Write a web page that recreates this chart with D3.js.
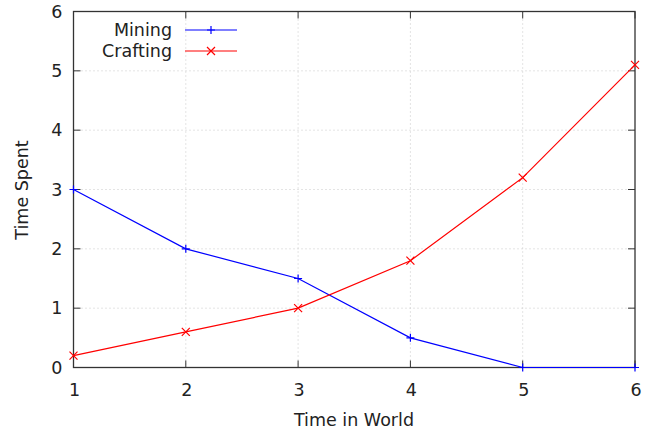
<!DOCTYPE html>
<html>
<head>
<meta charset="utf-8">
<script src="https://cdn.jsdelivr.net/npm/d3@7"></script>
<style>
  body { margin: 0; background: #fff; }
  text { font-family: "DejaVu Sans", sans-serif; font-size: 17.5px; fill: #222; }
</style>
</head>
<body>
<div id="chart"></div>
<script>
(() => {
  let xValues = [1, 2, 3, 4, 5, 6]
  let mining = [3, 2, 1.5, 0.5, 0, 0]
  let crafting = [0.2, 0.6, 1.0, 1.8, 3.2, 5.1]
  let xTicks = [1, 2, 3, 4, 5, 6]
  let yTicks = [0, 1, 2, 3, 4, 5, 6]

  let width = 650
  let height = 429
  let left = 73.5, right = 635, top = 11.5, bottom = 367.5

  let svg = d3.select('#chart')
              .append('svg')
                .attr('width', width)
                .attr('height', height)

  let xScale = d3.scaleLinear().domain([1, 6]).range([left, right])
  let yScale = d3.scaleLinear().domain([0, 6]).range([bottom, top])

  // grid
  let grid = svg.append('g').attr('stroke', '#c8c8c8').attr('stroke-dasharray', '1,3').attr('stroke-width', 1)
  grid.selectAll('.gx').data(xTicks.slice(1, -1)).enter().append('line')
    .attr('x1', d => xScale(d)).attr('x2', d => xScale(d))
    .attr('y1', top).attr('y2', bottom)
  grid.selectAll('.gy').data(yTicks.slice(1, -1)).enter().append('line')
    .attr('y1', d => yScale(d)).attr('y2', d => yScale(d))
    .attr('x1', left).attr('x2', right)

  // inward ticks on all four sides
  let tickLen = 7
  let ticks = svg.append('g').attr('stroke', '#333').attr('stroke-width', 1)
  xTicks.forEach(d => {
    ticks.append('line').attr('x1', xScale(d)).attr('x2', xScale(d)).attr('y1', bottom).attr('y2', bottom - tickLen)
    ticks.append('line').attr('x1', xScale(d)).attr('x2', xScale(d)).attr('y1', top).attr('y2', top + tickLen)
  })
  yTicks.forEach(d => {
    ticks.append('line').attr('y1', yScale(d)).attr('y2', yScale(d)).attr('x1', left).attr('x2', left + tickLen)
    ticks.append('line').attr('y1', yScale(d)).attr('y2', yScale(d)).attr('x1', right).attr('x2', right - tickLen)
  })

  svg.append('rect')
    .attr('x', left).attr('y', top)
    .attr('width', right - left).attr('height', bottom - top)
    .attr('fill', 'none').attr('stroke', '#333').attr('stroke-width', 1.3)

  // tick labels
  svg.selectAll('.xl').data(xTicks).enter().append('text')
    .attr('x', d => xScale(d) + 1).attr('y', bottom + 28)
    .attr('text-anchor', 'middle')
    .text(d => d)
  svg.selectAll('.yl').data(yTicks).enter().append('text')
    .attr('x', left - 11).attr('y', d => yScale(d) + 6)
    .attr('text-anchor', 'end')
    .text(d => d)

  // axis titles
  svg.append('text').attr('x', 354).attr('y', 426)
    .attr('text-anchor', 'middle').text('Time in World')
  svg.append('text').attr('transform', 'translate(28,190) rotate(-90)')
    .attr('text-anchor', 'middle').text('Time Spent')

  let line = d3.line().x((d, i) => xScale(xValues[i])).y(d => yScale(d))

  let series = [
    { name: 'Mining', values: mining, color: '#0000ff', marker: 'plus' },
    { name: 'Crafting', values: crafting, color: '#ff0000', marker: 'cross' }
  ]

  let drawMarker = (g, x, y, type, color) => {
    let s = 4
    if (type === 'plus') {
      g.append('path').attr('d', `M${x - s},${y}H${x + s}M${x},${y - s}V${y + s}`)
        .attr('stroke', color).attr('stroke-width', 1.2).attr('fill', 'none')
    } else {
      g.append('path').attr('d', `M${x - s},${y - s}L${x + s},${y + s}M${x - s},${y + s}L${x + s},${y - s}`)
        .attr('stroke', color).attr('stroke-width', 1.2).attr('fill', 'none')
    }
  }

  series.forEach((s, k) => {
    let g = svg.append('g')
    g.append('path').datum(s.values).attr('d', line)
      .attr('fill', 'none').attr('stroke', s.color).attr('stroke-width', 1.2)
    s.values.forEach((v, i) => drawMarker(g, xScale(xValues[i]), yScale(v), s.marker, s.color))

    // legend
    let ly = 30 + k * 21
    svg.append('text').attr('x', 172).attr('y', ly + 6).attr('text-anchor', 'end').text(s.name)
    g.append('line').attr('x1', 185).attr('x2', 237).attr('y1', ly).attr('y2', ly)
      .attr('stroke', s.color).attr('stroke-width', 1.2)
    drawMarker(g, 211, ly, s.marker, s.color)
  })
})()
</script>
</body>
</html>
